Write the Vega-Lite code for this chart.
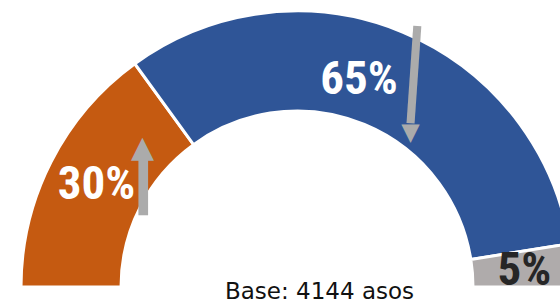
{
  "$schema": "https://vega.github.io/schema/vega-lite/v6.json",
  "width": 594,
  "height": 574,
  "autosize": {"type": "none"},
  "padding": 0,
  "background": "white",
  "config": {"view": {"stroke": null}},
  "data": {
    "values": [
      {"grupo": "G1", "pct": 30, "etiqueta": "30%", "tendencia": "sube"},
      {"grupo": "G2", "pct": 65, "etiqueta": "65%", "tendencia": "baja"},
      {"grupo": "G3", "pct": 5, "etiqueta": "5%", "tendencia": ""}
    ]
  },
  "encoding": {
    "theta": {"field": "pct", "type": "quantitative", "stack": true, "scale": {"domain": [0, 100], "range": [-1.5707963, 1.5707963]}},
    "order": {"field": "grupo", "sort": "ascending"},
    "detail": {"field": "grupo", "type": "nominal"}
  },
  "layer": [
    {
      "mark": {"type": "arc", "innerRadius": 176, "outerRadius": 276, "stroke": "white", "strokeWidth": 3},
      "encoding": {
        "color": {"field": "grupo", "type": "nominal", "scale": {"domain": ["G1", "G2", "G3"], "range": ["#C55A11", "#2F5597", "#AFABAB"]}, "legend": null}
      }
    },
    {
      "mark": {"type": "text", "radius": 225, "font": "Roboto Condensed, Liberation Sans Narrow, Roboto", "fontWeight": "bold", "fontSize": 47, "color": "white", "align": "center", "baseline": "middle"},
      "encoding": {"text": {"condition": {"test": "datum.grupo === 'G1'", "field": "etiqueta"}, "value": ""}}
    },
    {
      "mark": {"type": "text", "radius": 217, "dx": -21, "dy": -7, "font": "Roboto Condensed, Liberation Sans Narrow, Roboto", "fontWeight": "bold", "fontSize": 47, "color": "white", "align": "center", "baseline": "middle"},
      "encoding": {"text": {"condition": {"test": "datum.grupo === 'G2'", "field": "etiqueta"}, "value": ""}}
    },
    {
      "mark": {"type": "text", "radius": 228, "dy": 2, "font": "Roboto Condensed, Liberation Sans Narrow, Roboto", "fontWeight": "bold", "fontSize": 47, "color": "#262626", "align": "center", "baseline": "middle"},
      "encoding": {"text": {"condition": {"test": "datum.grupo === 'G3'", "field": "etiqueta"}, "value": ""}}
    },
    {
      "mark": {"type": "text", "radius": 170, "dx": -3, "dy": -53, "font": "DejaVu Sans", "fontSize": 30, "color": "#ABABAB", "align": "center", "baseline": "alphabetic"},
      "encoding": {"text": {"condition": {"test": "datum.tendencia === 'sube'", "value": "▲"}, "value": ""}}
    },
    {
      "mark": {"type": "text", "radius": 170, "dx": -6.5, "dy": -7.3, "font": "DejaVu Sans", "fontSize": 49, "color": "#ABABAB", "align": "left", "baseline": "alphabetic"},
      "encoding": {"text": {"condition": {"test": "datum.tendencia === 'sube'", "value": "▎"}, "value": ""}}
    },
    {
      "mark": {"type": "text", "radius": 200, "dx": 37, "dy": 37.3, "font": "DejaVu Sans", "fontSize": 24, "color": "#ABABAB", "align": "center", "baseline": "alphabetic"},
      "encoding": {"text": {"condition": {"test": "datum.tendencia === 'baja'", "value": "▼"}, "value": ""}}
    },
    {
      "mark": {"type": "text", "radius": 200, "dx": 35.2, "dy": -2.2, "angle": 4, "font": "DejaVu Sans", "fontSize": 82, "color": "#ABABAB", "align": "left", "baseline": "alphabetic"},
      "encoding": {"text": {"condition": {"test": "datum.tendencia === 'baja'", "value": "▏"}, "value": ""}}
    },
    {
      "data": {"values": [{"texto": "Base: 4144 asos"}]},
      "mark": {"type": "text", "dx": 22.5, "dy": 12, "font": "DejaVu Sans", "fontSize": 23, "color": "#111111", "align": "center", "baseline": "alphabetic"},
      "encoding": {"text": {"field": "texto", "type": "nominal"}, "theta": null, "order": null, "detail": null}
    }
  ]
}
